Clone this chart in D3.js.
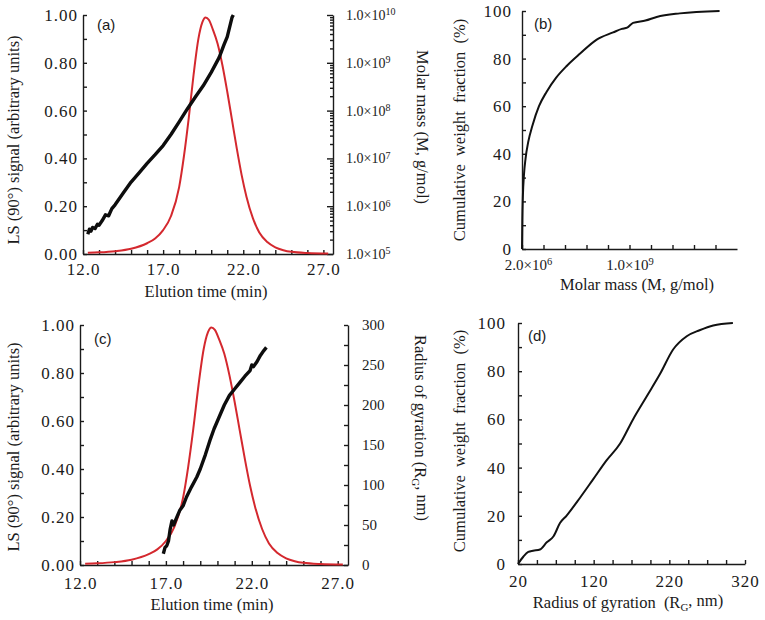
<!DOCTYPE html>
<html>
<head>
<meta charset="utf-8">
<script src="https://cdn.jsdelivr.net/npm/d3@7"></script>
<style>
  body { margin: 0; background: #fff; }
  #chart text { font-family: "Times New Roman", "Liberation Serif", Tinos, "DejaVu Serif", serif; fill: #1a1a1a; }
  .axis path, .axis line { stroke: #1a1a1a; stroke-width: 1.4; }
  .tick-lab text { font-size: 17px; letter-spacing: 1px; }
  #chart text.title { font-size: 16.5px; }
  #chart text.wide { word-spacing: 4px; }
  #chart text.panel { font-family: "Liberation Sans", Arial, sans-serif; font-size: 15px; }
</style>
</head>
<body>
<svg id="chart" width="765" height="620" font-family="Liberation Serif, serif"></svg>
<script>
// LS (90 deg) signal, same sample in (a) and (c)
const lsTime = [12.3, 13, 14, 15, 16, 16.5, 17, 17.5, 18, 18.3, 18.6, 18.9, 19.2, 19.45, 19.65, 19.85,
  20.1, 20.4, 20.7, 21.0, 21.3, 21.6, 21.9, 22.2, 22.6, 23.0, 23.5, 24.0, 24.5, 25.0, 26.0, 27.3];
const lsSignal = [0.005, 0.007, 0.012, 0.022, 0.045, 0.065, 0.10, 0.16, 0.28, 0.41, 0.57, 0.75, 0.90, 0.97, 0.99, 0.98,
  0.94, 0.88, 0.79, 0.68, 0.56, 0.44, 0.33, 0.24, 0.15, 0.09, 0.05, 0.028, 0.016, 0.009, 0.004, 0.002];

// (a) molar mass vs elution time
const mmTime = [12.3, 12.4, 12.5, 12.6, 12.75, 12.9, 13.0, 13.2, 13.4, 13.6, 13.8, 14.0, 14.5, 15.0, 15.5,
  16.0, 16.5, 17.0, 17.5, 18.0, 18.5, 19.0, 19.5, 20.0, 20.5, 20.8, 21.0, 21.15, 21.3, 21.38];
const mmMass = [2.6e5, 3.3e5, 3.0e5, 3.6e5, 3.4e5, 4.2e5, 4.0e5, 5.0e5, 6.6e5, 6.3e5, 8.9e5, 1.07e6, 1.86e6, 3.2e6, 5.0e6,
  7.9e6, 1.2e7, 1.86e7, 3.2e7, 5.8e7, 1.07e8, 1.9e8, 3.3e8, 6.3e8, 1.3e9, 2.4e9, 3.5e9, 5.6e9, 8.9e9, 1.0e10];

// (b) cumulative weight fraction vs molar mass
const cumMass = [2e6, 5e6, 1.0e7, 2.0e7, 3.5e7, 6.0e7, 1.0e8, 1.6e8, 2.3e8, 3.2e8, 4.2e8, 5.4e8, 6.97e8,
  8.5e8, 9.3e8, 9.8e8, 1.035e9, 1.15e9, 1.255e9, 1.47e9, 1.84e9];
const cumMassFrac = [0, 12, 22, 31, 38, 45, 52, 60, 66, 72, 77, 82, 88, 91, 92.5, 93, 95, 96, 97.5, 99, 100];

// (c) radius of gyration vs elution time
const rgTime = [16.85, 16.95, 17.05, 17.15, 17.25, 17.35, 17.45, 17.6, 17.8, 18.0, 18.2, 18.5, 18.8, 19.0, 19.3,
  19.6, 19.8, 20.1, 20.4, 20.7, 21.0, 21.3, 21.6, 21.9, 22.0, 22.1, 22.3, 22.5, 22.7, 22.85];
const rgRadius = [14, 22, 24, 30, 45, 55, 50, 58, 68, 74, 85, 98, 110, 120, 138,
  158, 170, 185, 200, 212, 220, 228, 236, 243, 250, 248, 254, 262, 268, 272];

// (d) cumulative weight fraction vs radius of gyration
const cumRg = [20, 27, 33.6, 40, 49, 58, 67, 75.5, 84, 102, 119, 137, 155, 172, 190, 208, 225, 243, 260, 278, 304];
const cumRgFrac = [0, 3, 5, 5.5, 6, 9, 11.5, 17, 20, 27.5, 35, 43, 50, 60, 69.5, 79, 89, 94.5, 97, 99, 100];

const timeTicks = d3.range(12, 28, 1);
const timeLabels = [12, 17, 22, 27];
const fracTicks = d3.range(0, 101, 10);
const signalTicks = d3.range(0, 11, 1).map(d => d / 10);
const rgAxisTicks = d3.range(0, 301, 25);
const massAxisTicks = d3.range(0, 10).map(k => 2e6 + k * 2e8);
const rgCumTicks = d3.range(20, 321, 25);
const rgCumLabels = [20, 120, 220, 320];

const svg = d3.select('#chart');

function sciLabel(sel, v, fs, sup) {
  const e = Math.floor(Math.log10(v) + 1e-9);
  const m = (v / Math.pow(10, e)).toFixed(1);
  sel.text(null).style('font-size', fs + 'px').style('letter-spacing', '0px');
  sel.append('tspan').text(`${m}×10`);
  sel.append('tspan').attr('dy', '-0.45em').style('font-size', sup + 'px').text(e);
}

function drawAxis(axis, tx, ty, cls) {
  const g = svg.append('g').attr('class', `axis ${cls || ''}`)
    .attr('transform', `translate(${tx},${ty})`).call(axis);
  g.attr('font-family', null);
  return g;
}

function title(x, y, rot, txt, sub) {
  const t = svg.append('text').attr('class', 'title')
    .attr('transform', `translate(${x},${y}) rotate(${rot})`)
    .attr('text-anchor', 'middle');
  if (sub) {
    t.append('tspan').text(txt[0]);
    t.append('tspan').attr('dy', '0.3em').style('font-size', '11px').text(sub);
    t.append('tspan').attr('dy', '-0.3em').text(txt[1]);
  } else {
    t.text(txt);
  }
  return t;
}

const redLine = (x, y) => d3.line().x((d, i) => x(lsTime[i])).y(d => y(d)).curve(d3.curveMonotoneX);

// ---------- (a) ----------
const xa = d3.scaleLinear().domain([12, 27.6]).range([83, 333]);
const ya = d3.scaleLinear().domain([0, 1]).range([254, 15]);
const yaM = d3.scaleLog().domain([1e5, 1e10]).range([254, 15]);

drawAxis(d3.axisBottom(xa).tickValues(timeTicks)
  .tickFormat(d => timeLabels.includes(d) ? d.toFixed(1) : '')
  .tickSize(-4).tickSizeOuter(0).tickPadding(9), 0, 254, 'tick-lab');
drawAxis(d3.axisLeft(ya).tickValues(signalTicks)
  .tickFormat(d => Math.round(d * 10) % 2 === 0 ? d.toFixed(2) : '')
  .tickSize(-4).tickSizeOuter(0).tickPadding(5), 83, 0, 'tick-lab');

const logTicks = [];
for (let e = 5; e < 10; e++) for (let m = 1; m < 10; m++) logTicks.push(m * Math.pow(10, e));
logTicks.push(1e10);
const gaR = drawAxis(d3.axisRight(yaM).tickValues(logTicks).tickFormat(() => '')
  .tickSize(-4).tickSizeOuter(0).tickPadding(13), 333, 0);
gaR.selectAll('.tick').each(function (d) {
  const major = Math.abs(Math.log10(d) - Math.round(Math.log10(d))) < 1e-9;
  d3.select(this).select('line').attr('x2', major ? -6 : -3);
  if (major) sciLabel(d3.select(this).select('text'), d, 14, 10);
});

svg.append('path').datum(lsSignal).attr('fill', 'none').attr('stroke', '#d4282e').attr('stroke-width', 2)
  .attr('d', redLine(xa, ya));
svg.append('path').datum(mmMass).attr('fill', 'none').attr('stroke', '#0d0d0d').attr('stroke-width', 3.4)
  .attr('stroke-linejoin', 'round')
  .attr('d', d3.line().x((d, i) => xa(mmTime[i])).y(d => yaM(d)));

title(206, 297, 0, 'Elution time (min)');
title(19, 140, -90, 'LS (90°) signal (arbitrary units)');
title(417, 127, 90, 'Molar mass (M, g/mol)');
svg.append('text').attr('class', 'panel').attr('x', 97).attr('y', 30).text('(a)');

// ---------- (b) ----------
const xb = d3.scaleLinear().domain([2e6, 2.002e9]).range([522, 737]);
const yb = d3.scaleLinear().domain([0, 100]).range([249, 11]);

const gbx = drawAxis(d3.axisBottom(xb).tickValues(massAxisTicks).tickFormat(() => '')
  .tickSize(-4).tickSizeOuter(0).tickPadding(10), 0, 249);
gbx.selectAll('.tick').each(function (d, i) {
  if (i === 0 || i === 5) {
    const t = d3.select(this).select('text');
    sciLabel(t, i === 0 ? d : 1.0e9, 15, 10.5);
    if (i === 0) t.attr('x', 6);
  }
});
drawAxis(d3.axisLeft(yb).tickValues(fracTicks)
  .tickFormat(d => d % 20 === 0 ? d : '')
  .tickSize(-4).tickSizeOuter(0).tickPadding(10), 522, 0, 'tick-lab');

svg.append('path').datum(cumMassFrac).attr('fill', 'none').attr('stroke', '#111').attr('stroke-width', 2)
  .attr('d', d3.line().x((d, i) => xb(cumMass[i])).y(d => yb(d)).curve(d3.curveMonotoneX));

title(637, 290, 0, 'Molar mass (M, g/mol)');
title(465, 130, -90, 'Cumulative weight fraction (%)').classed('wide', true);
svg.append('text').attr('class', 'panel').attr('x', 534).attr('y', 29).text('(b)');

// ---------- (c) ----------
const xc = d3.scaleLinear().domain([12, 27.6]).range([80, 348]);
const yc = d3.scaleLinear().domain([0, 1]).range([565, 325]);
const ycR = d3.scaleLinear().domain([0, 300]).range([565, 325]);

drawAxis(d3.axisBottom(xc).tickValues(timeTicks)
  .tickFormat(d => timeLabels.includes(d) ? d.toFixed(1) : '')
  .tickSize(-4).tickSizeOuter(0).tickPadding(12), 0, 565, 'tick-lab');
drawAxis(d3.axisLeft(yc).tickValues(signalTicks)
  .tickFormat(d => Math.round(d * 10) % 2 === 0 ? d.toFixed(2) : '')
  .tickSize(-4).tickSizeOuter(0).tickPadding(5), 80, 0, 'tick-lab');
const gcR = drawAxis(d3.axisRight(ycR).tickValues(rgAxisTicks)
  .tickFormat(d => d % 50 === 0 ? d : '')
  .tickSize(-4).tickSizeOuter(0).tickPadding(14), 348, 0);
gcR.selectAll('text').style('font-size', '15px');

svg.append('path').datum(lsSignal).attr('fill', 'none').attr('stroke', '#d4282e').attr('stroke-width', 2)
  .attr('d', redLine(xc, yc));
svg.append('path').datum(rgRadius).attr('fill', 'none').attr('stroke', '#0d0d0d').attr('stroke-width', 3.4)
  .attr('stroke-linejoin', 'round')
  .attr('d', d3.line().x((d, i) => xc(rgTime[i])).y(d => ycR(d)));

title(212, 610, 0, 'Elution time (min)');
title(19, 447, -90, 'LS (90°) signal (arbitrary units)');
title(415, 428, 90, ['Radius of gyration (R', ', nm)'], 'G');
svg.append('text').attr('class', 'panel').attr('x', 94).attr('y', 344).text('(c)');

// ---------- (d) ----------
const xd = d3.scaleLinear().domain([20, 320]).range([518, 745]);
const yd = d3.scaleLinear().domain([0, 100]).range([564, 323]);

drawAxis(d3.axisBottom(xd).tickValues(rgCumTicks)
  .tickFormat(d => rgCumLabels.includes(d) ? d : '')
  .tickSize(-4).tickSizeOuter(0).tickPadding(11), 0, 564, 'tick-lab');
drawAxis(d3.axisLeft(yd).tickValues(fracTicks)
  .tickFormat(d => d % 20 === 0 ? d : '')
  .tickSize(-4).tickSizeOuter(0).tickPadding(12), 518, 0, 'tick-lab');

svg.append('path').datum(cumRgFrac).attr('fill', 'none').attr('stroke', '#111').attr('stroke-width', 2)
  .attr('d', d3.line().x((d, i) => xd(cumRg[i])).y(d => yd(d)).curve(d3.curveMonotoneX));

title(628, 608, 0, ['Radius of gyration\u00a0 (R', ', nm)'], 'G');
title(465, 441, -90, 'Cumulative weight fraction (%)').classed('wide', true);
svg.append('text').attr('class', 'panel').attr('x', 528).attr('y', 341).text('(d)');
</script>
</body>
</html>
